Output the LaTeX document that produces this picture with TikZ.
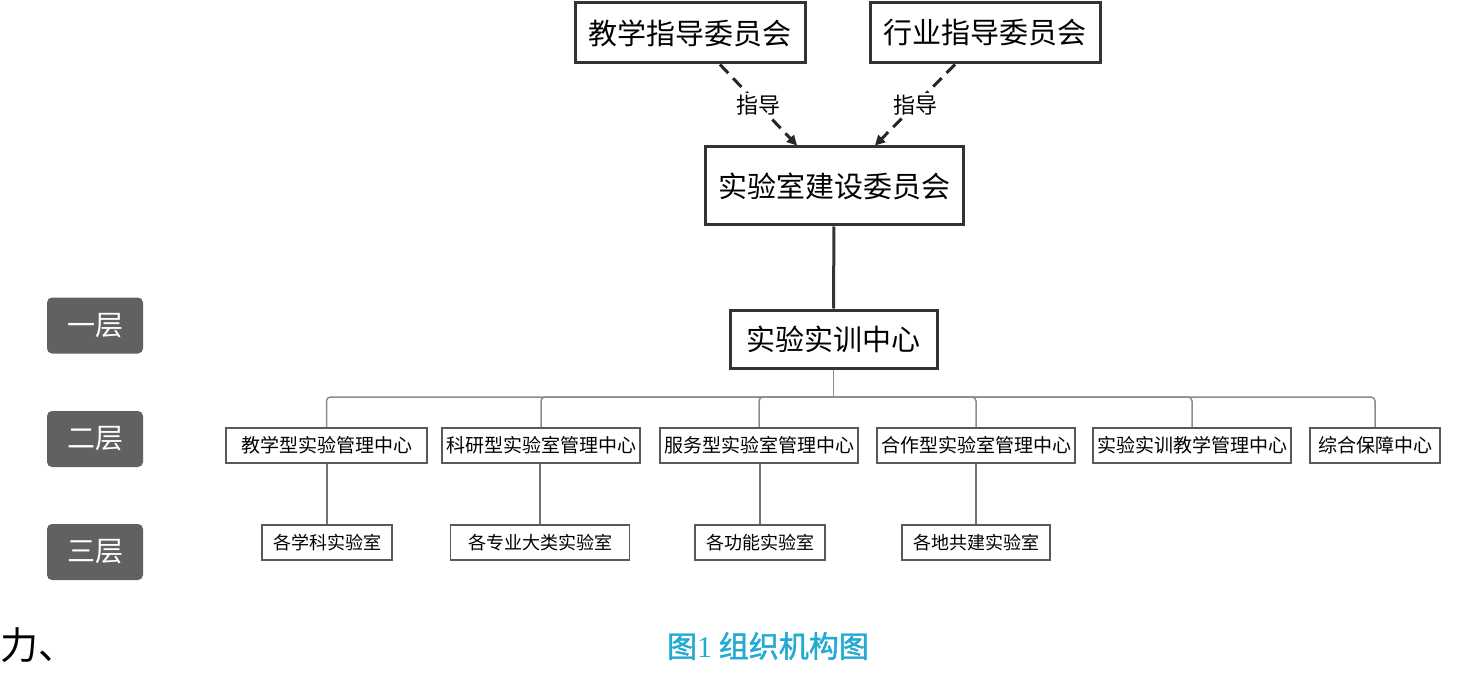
\documentclass[tikz,border=0pt]{standalone}
\usepackage{fontspec}
\setmainfont{Noto Sans CJK SC}
\newfontfamily\capfont[FakeBold=1.5]{Noto Sans CJK SC}
\newfontfamily\numfont{Liberation Serif}
\definecolor{capblue}{RGB}{35,170,210}
\usetikzlibrary{arrows.meta}

\begin{document}
\begin{tikzpicture}[x=1pt,y=-1pt,
      bigbox/.style={
         draw=black!80,
         line width=3pt,
         fill=white,
         inner sep=0pt,
         minimum height=60pt,
         font=\fontsize{29}{29}\selectfont},
      midbox/.style={
         draw=black!65,
         line width=1.8pt,
         inner sep=0pt,
         minimum height=35pt,
         font=\fontsize{19}{19}\selectfont},
      lowbox/.style={midbox,font=\fontsize{18}{18}\selectfont},
      layer/.style={
         fill=black!62,
         rounded corners=5pt,
         minimum width=96pt,
         minimum height=56pt,
         text=white,
         font=\fontsize{28}{28}\selectfont},
      guide/.style={
         dash pattern=on 12pt off 7pt,
         line width=3pt,
         draw=black!85,
         -{Triangle[length=10pt,width=10pt]}},
      branch/.style={draw=black!45,line width=1.5pt,rounded corners=4pt}
      ]
      \useasboundingbox (0,0) rectangle (1483,679);

      \node[bigbox,minimum width=230pt] (jx) at (690,33) {教学指导委员会};
      \node[bigbox,minimum width=230pt] (hy) at (985,33) {行业指导委员会};
      \node[bigbox,minimum width=258pt,minimum height=78pt] (cs) at (834,186) {实验室建设委员会};
      \node[bigbox,minimum width=207pt,minimum height=58pt] (hub) at (833.5,339) {实验实训中心};

    \foreach \name/\x/\w/\txt in {% name/x/width/text
      b1/326.5/201/{教学型实验管理中心},
      b2/541/198/{科研型实验室管理中心},
      b3/759/198/{服务型实验室管理中心},
      b4/976/198/{合作型实验室管理中心},
      b5/1192/198/{实验实训教学管理中心},
      b6/1375/130/{综合保障中心}}
       \node[midbox,minimum width=\w pt] (\name) at (\x,445.5) {\txt};

    \foreach \name/\x/\w/\txt in {%
      c1/327/130/{各学科实验室},
      c2/540/179/{各专业大类实验室},
      c3/760/130/{各功能实验室},
      c4/976/148/{各地共建实验室}}
       \node[lowbox,minimum width=\w pt] (\name) at (\x,542.5) {\txt};

    \foreach \name/\y/\txt in {l1/325.5/一层, l2/439/二层, l3/552/三层}
       \node[layer] (\name) at (95,\y) {\txt};

\draw[guide] ([xshift=30pt]jx.south) -- node[fill=white,inner sep=2pt,font=\fontsize{22}{22}\selectfont] (g1) {指导} ([xshift=-37pt]cs.north);
\draw[guide] ([xshift=-30pt]hy.south) -- node[fill=white,inner sep=2pt,font=\fontsize{22}{22}\selectfont] (g2) {指导} ([xshift=41pt]cs.north);

\draw[line width=3pt,draw=black!80] (cs) -- (hub);
\coordinate (bar) at (833.5,397);
\draw[branch] (hub) -- (bar);
\foreach \name in {b1,b2,b3,b4,b5,b6}
   \draw[branch] (bar) -| (\name.north);
\foreach \up/\down in {b1/c1,b2/c2,b3/c3,b4/c4}
   \draw[branch,draw=black!55] (\down.north) -- (\down.north |- \up.south);

\node[anchor=west,font=\fontsize{38}{38}\selectfont] (side) at (-3,645) {力、};
\node[text=capblue,font=\fontsize{30}{30}\selectfont] (cap) at (768,646) {\capfont 图{\numfont 1} 组织机构图};
    \end{tikzpicture}
\end{document}
